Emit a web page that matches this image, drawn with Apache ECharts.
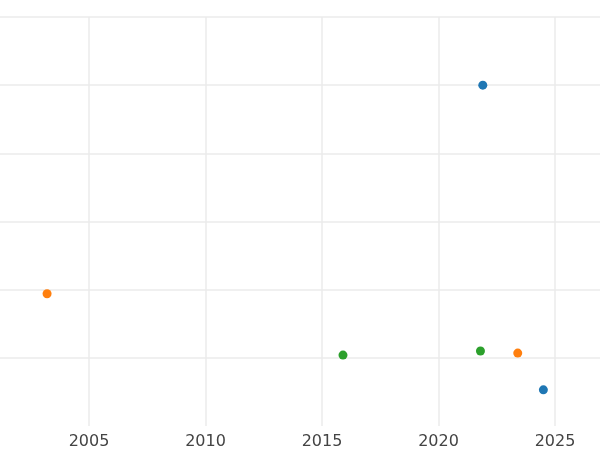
<!DOCTYPE html><html><head><meta charset="utf-8"><script src="https://cdn.jsdelivr.net/npm/echarts@6/dist/echarts.min.js"></script></head><body style="margin:0"><div id="c" style="width:600px;height:450px"></div><script>
const xTicks=[2005,2010,2015,2020,2025];
const yTicks=[0,1,2,3,4,5];
const blue=[[2021.9,4.0],[2024.5,-0.47]];
const orange=[[2003.2,0.94],[2023.4,0.07]];
const green=[[2015.9,0.04],[2021.8,0.1]];
const ch=echarts.init(document.getElementById('c'));
const mk=(d,c)=>({type:'scatter',data:d,symbolSize:9,itemStyle:{color:c,opacity:1}});
ch.setOption({animation:false,grid:{left:0,right:0,top:17,bottom:24},
xAxis:{type:'value',min:2001.18,max:2026.93,axisLine:{show:false},
axisTick:{show:false,customValues:xTicks},
axisLabel:{customValues:xTicks,formatter:v=>String(v),color:'#444',fontSize:16,margin:8,fontFamily:'DejaVu Sans'},
splitLine:{lineStyle:{color:'#ebebeb',width:1.5}}},
yAxis:{type:'value',min:-1,max:5,axisLabel:{show:false,customValues:yTicks},axisLine:{show:false},axisTick:{show:false,customValues:yTicks},splitLine:{lineStyle:{color:'#ebebeb',width:1.5}}},
series:[mk(blue,'#1f77b4'),mk(orange,'#ff7f0e'),mk(green,'#2ca02c')]});
</script></body></html>
